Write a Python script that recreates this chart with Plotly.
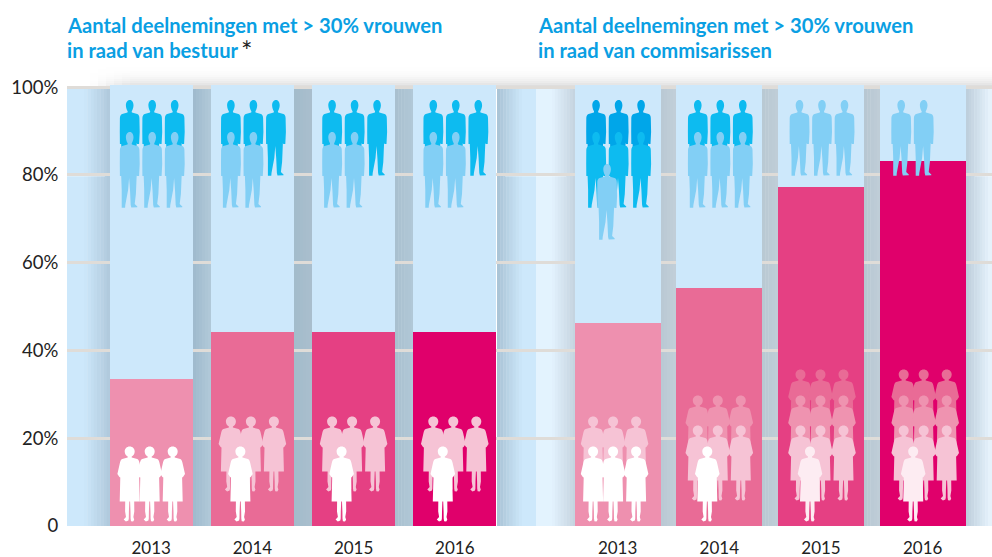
import plotly.graph_objects as go

# ---- data ----
years = ["2013", "2014", "2015", "2016"]
bestuur_pct = [33.5, 44.2, 44.2, 44.2]
commissarissen_pct = [46.2, 54.2, 77.2, 83.1]
y_tick_vals = [0, 20, 40, 60, 80, 100]
y_tick_text = ["0", "20%", "40%", "60%", "80%", "100%"]
title_left = ("Aantal deelnemingen met > 30% vrouwen", "in raad van bestuur")
title_right = ("Aantal deelnemingen met > 30% vrouwen", "in raad van commisarissen")

# icon counts per row, back row first
men_left = [[3, 3], [3, 2], [3, 2], [3, 2]]
men_right = [[3, 3, 1], [3, 3], [3], [2]]
women_left = [[3], [3, 1], [3, 1], [3, 1]]
women_right = [[3, 3], [3, 3, 1], [3, 3, 3, 1], [3, 3, 3, 1]]

# ---- styling / geometry (pixels of the 992x557 page) ----
W, H = 992, 557
L, R, T, B = 67, 0, 85, 31
SPLIT = 536
PW, PH = W - L - R, H - T - B
BAR_TOP = 100.5
PINKS = ["#ee90af", "#e96b96", "#e54083", "#e0006b"]
BLUE = "#cde8fb"
FONT = "Lato"


def px(x):
    return (x - L) / PW


def py(y):
    return (H - B - y) / PH


def val_y(v):
    return H - B - v * PH / BAR_TOP


STEP_L, STEP_R = 101.2, 101.7
left_cx = [151.2 + STEP_L * i for i in range(4)]
right_cx = [617.6 + STEP_R * i for i in range(4)]
left_w, right_w = 83, 86


def hexrgb(c):
    return tuple(int(c[i:i + 2], 16) for i in (1, 3, 5))


shapes = []


def rect(x0, x1, y0, y1, c, layer="below"):
    shapes.append(dict(type="rect", xref="paper", yref="paper", x0=px(x0), x1=px(x1),
                       y0=py(y1), y1=py(y0), fillcolor=c, line=dict(width=0), layer=layer))


def grad(x0, x1, c0, c1, n=8):
    a, b = hexrgb(c0), hexrgb(c1)
    for i in range(n):
        t = (i + 0.5) / n
        col = "rgb(%d,%d,%d)" % tuple(a[k] + (b[k] - a[k]) * t for k in range(3))
        rect(x0 + (x1 - x0) * i / n, x0 + (x1 - x0) * (i + 1) / n + 0.4, val_y(100), val_y(0), col)


# soft shadow above the panel, fading out upwards and to the left
ROWS = 12
for i in range(ROWS):
    y0 = 63 + 2 * i
    alpha = 0.2 * ((i + 1) / ROWS) ** 3
    rect(130, 992, y0, y0 + 2, "rgba(90,90,90,%.3f)" % alpha)
    for j in range(5):
        rect(90 + 8 * j, 98 + 8 * j, y0, y0 + 2, "rgba(90,90,90,%.3f)" % (alpha * (j + 0.5) / 5))

rect(67, 84, val_y(100), val_y(0), BLUE)
grad(84, 110, "#cde8fb", "#b0c9dc")
grad(193, 211, "#9fbacd", "#b2cad9", 6)
grad(294, 312, "#a3bccb", "#aabfce", 6)
grad(395, 414, "#a9c0cf", "#b2c9d8", 6)
grad(497, 522, "#a9c3d5", "#cde8fb", 8)
rect(522, 536, val_y(100), val_y(0), BLUE)
rect(536, 552, val_y(100), val_y(0), "#e3f3fe")
grad(552, 575, "#e3f3fe", "#c3d2de", 8)
grad(661, 676, "#bac9d4", "#c2cfd9", 5)
grad(762, 778, "#b9c9d3", "#c0ced8", 5)
grad(864, 880, "#b7c7d2", "#c0ced8", 5)
grad(966, 988, "#bccdda", "#e3f0fa", 8)
rect(988, 992, val_y(100), val_y(0), "#e6f2fb")

# white parts of the gridlines on the light zones
for v in y_tick_vals[1:-1]:
    for a, b in [(67, 105), (505, 566), (975, 992)]:
        shapes.append(dict(type="line", xref="paper", yref="y", x0=px(a), x1=px(b), y0=v, y1=v,
                           line=dict(color="#ffffff", width=2.5), layer="between"))

# ---- silhouettes: origin at the feet, y upwards, pixels ----
MAN = ("M0.2 76 C2.5 76 3.9 73.5 3.8 70.5 C3.7 68 2.8 66 2 64.8 L2.2 63.6 L7.5 62 "
       "C9 61.5 9.6 60 9.7 58 L10 44 L9.4 32 L7.4 32 L7 33 L6.2 14 L5 4 L7.6 1.6 L7.6 0.8 "
       "L1.6 0.6 L1 3 L0.3 18 L-0.6 30 L-1.6 18 L-4.4 3 L-4.6 0.3 L-8 0.2 L-8 2.5 L-8 18 L-8.5 32 "
       "L-9.8 32 L-9.9 44 L-9.8 58 C-9.6 60 -9 61.5 -7.5 62 L-2.2 63.6 L-2 64.8 "
       "C-2.9 66 -3.7 68 -3.8 70.5 C-3.9 73.5 -2.5 76 0.2 76 Z")
WOMAN = ("M0 75 C3 75 5 72.7 5 70 C5 67.7 3.5 65.6 2 65 L2 64 L7.5 62.5 C8.8 62 9.2 61 9.7 59 "
         "L12.3 47.5 L10.3 44.5 L9.4 44 L10 20 L4.5 20 L4.6 10 L3.7 4.5 L4.5 1.8 L3.4 0.2 L1.3 0.4 "
         "L0.9 3 L0.8 10 L0.4 20 L-0.4 20 L-0.8 10 L-0.9 3 L-1.3 1 L-3.8 0.2 L-6 2 L-3.7 4.5 "
         "L-4.6 10 L-4.5 20 L-10 20 L-9.4 44 L-10.3 44.5 L-12.3 47.5 L-9.7 59 "
         "C-9.2 61 -8.8 62 -7.5 62.5 L-2 64 L-2 65 C-3.5 65.6 -5 67.7 -5 70 C-5 72.7 -3 75 0 75 Z")

MAN_FEET = 176
MAN_ROW_STEP = 32
MAN_X = [-21.5, 1, 23.5]
MAN_DARK, MAN_MID, MAN_LIGHT = "#00a6e9", "#0dbbf0", "#82cff5"
WOMAN_FEET = 521.6
WOMAN_X = [-21.5, -1.5, 21.5]
WOMAN_SINGLE_X = -12


def icon(path, cx, feet, color):
    shapes.append(dict(type="path", xref="paper", yref="paper", xsizemode="pixel", ysizemode="pixel",
                       xanchor=px(cx), yanchor=py(feet), path=path, fillcolor=color,
                       line=dict(width=0), layer="above"))


def men(groups, cxs):
    for g, rows, cx in zip(range(4), groups, cxs):
        n = len(rows)
        for r, count in enumerate(rows):
            feet = MAN_FEET + MAN_ROW_STEP * r
            if r == n - 1:
                col = MAN_LIGHT
            elif n == 3 and r == 0:
                col = MAN_DARK
            else:
                col = MAN_MID
            xs = MAN_X[:count] if count > 1 else [-10.5]
            for dx in xs:
                icon(MAN, cx + dx, feet, col)


def women(groups, cxs, shift=(0, 0, 0, 0), last_white=("#ffffff",) * 4):
    ramp = ["#e96b96", "#ef93b0", "#f6c3d5"]
    for g, rows, cx in zip(range(4), groups, cxs):
        n = len(rows)
        if n == 1:
            offs = [0]
        elif n == 2:
            offs = [30, 0]
        elif n == 3:
            offs = [51, 21, 0]
        else:
            offs = [77, 51, 21, 0]
        for r, count in enumerate(rows):
            feet = WOMAN_FEET - offs[r]
            col = last_white[g] if r == n - 1 else ramp[3 - (n - 1 - r)]
            xs = [WOMAN_SINGLE_X] if count == 1 else WOMAN_X
            for dx in xs:
                icon(WOMAN, cx + dx + shift[g], feet, col)


men(men_left, left_cx)
men(men_right, right_cx)
women(women_left, left_cx)
women(women_right, right_cx, shift=(-3, 0, 1, 2.5), last_white=("#ffffff", "#ffffff", "#fdecf2", "#fdecf2"))

# ---- traces ----
fig = go.Figure()
for xa, vals, width in [("x", bestuur_pct, left_w / STEP_L), ("x2", commissarissen_pct, right_w / STEP_R)]:
    fig.add_trace(go.Bar(x=years, y=vals, xaxis=xa, yaxis="y", width=width,
                         marker=dict(color=PINKS, line=dict(width=0)), showlegend=False))
    fig.add_trace(go.Bar(x=years, y=[BAR_TOP - v for v in vals], xaxis=xa, yaxis="y", width=width,
                         marker=dict(color=BLUE, line=dict(width=0)), showlegend=False))

ann = []
for x, lines in [(65, title_left), (536, title_right)]:
    for yy, t in zip((25, 50), lines):
        ann.append(dict(text=t, xref="paper", yref="paper", x=px(x), y=py(yy), xanchor="left", yanchor="middle",
                        showarrow=False, font=dict(family=FONT, size=20.2, color="#0a9fe3", weight="bold")))
ann.append(dict(text="*", xref="paper", yref="paper", x=px(239), y=py(51), xanchor="left", yanchor="middle",
                showarrow=False, font=dict(family=FONT, size=27, color="#222222")))

split = px(SPLIT)
common_x = dict(type="category", categoryorder="array", categoryarray=years, showgrid=False, zeroline=False,
                showline=False, ticks="outside", ticklen=7, tickcolor="rgba(0,0,0,0)", anchor="y",
                tickfont=dict(family=FONT, size=17, color="#222222"))
fig.update_layout(
    width=W, height=H, margin=dict(l=L, r=R, t=T, b=B, pad=0, autoexpand=False),
    paper_bgcolor="white", plot_bgcolor="rgba(0,0,0,0)", barmode="stack", bargap=0,
    font=dict(family=FONT), shapes=shapes, annotations=ann,
    xaxis=dict(domain=[0, split], range=[(L - left_cx[0]) / STEP_L, (SPLIT - left_cx[0]) / STEP_L], **common_x),
    xaxis2=dict(domain=[split, 1], range=[(SPLIT - right_cx[0]) / STEP_R, (W - right_cx[0]) / STEP_R], **common_x),
    yaxis=dict(range=[0, BAR_TOP], tickvals=y_tick_vals, ticktext=y_tick_text, gridcolor="#dfdcd8", gridwidth=2.5,
               zeroline=False, showline=False, ticks="outside", ticklen=4, tickcolor="rgba(0,0,0,0)",
               tickfont=dict(family=FONT, size=18.5, color="#222222"), layer="below traces"),
)
fig.write_html("out.html", config=dict(displayModeBar=False),
               post_script="document.body.style.margin='0';document.documentElement.style.overflow='hidden';")
